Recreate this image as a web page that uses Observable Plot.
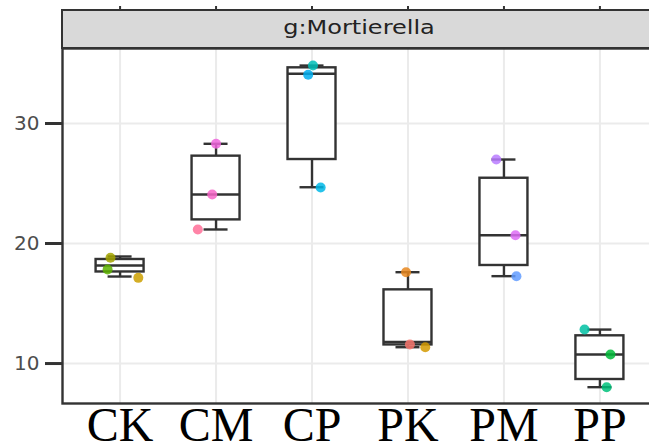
<!DOCTYPE html>
<html>
<head>
<meta charset="utf-8">
<script src="https://cdn.jsdelivr.net/npm/d3@7"></script>
<script src="https://cdn.jsdelivr.net/npm/@observablehq/plot@0.6"></script>
<style>
html, body { margin: 0; padding: 0; background: #fff; overflow: hidden; }
#wrap { position: relative; width: 649px; height: 448px; overflow: hidden; }
#chart { position: absolute; left: 0; top: 0; width: 657px; }
#chart svg { max-width: none !important; }
#strip { position: absolute; left: 61px; top: 9px; width: 700px; height: 36px; background: #d9d9d9;
  border-top: 2px solid #333; border-bottom: 2px solid #333; border-left: 2px solid #333; }
#striptext { position: absolute; left: 359px; top: 17px; font: 20px "DejaVu Sans"; line-height: 20px;
  color: #222; white-space: nowrap; transform: translateX(-50%) scaleX(1.2); }
</style>
</head>
<body>
<div id="wrap">
  <div id="chart"></div>
  <div id="strip"></div>
  <div id="striptext">g:Mortierella</div>
</div>
<script>
// Categories (x axis)
const categories = ["CK", "CM", "CP", "PK", "PM", "PP"];
const yTicks = [10, 20, 30];

// Box statistics
const ymin   = [17.25, 21.17, 24.69, 11.36, 17.28,  8.03];
const lower  = [17.63, 21.97, 27.00, 11.55, 18.17,  8.67];
const middle = [18.17, 24.08, 34.14, 11.80, 20.69, 10.75];
const upper  = [18.67, 27.28, 34.64, 16.14, 25.44, 12.31];
const ymax   = [18.92, 28.31, 34.83, 17.61, 27.00, 12.83];

// Individual samples (jittered points)
const sampleIds   = ["CK1","CK2","CK3","CM1","CM2","CM3","CP1","CP2","CP3","PK1","PK2","PK3","PM1","PM2","PM3","PP1","PP2","PP3"];
const pointCat    = [0,0,0, 1,1,1, 2,2,2, 3,3,3, 4,4,4, 5,5,5];
const pointJitter = [-0.10,-0.13,0.19, 0.00,-0.04,-0.19, 0.01,-0.04,0.09, -0.02,0.02,0.18, -0.08,0.12,0.13, -0.16,0.11,0.07];
const pointValue  = [18.81,17.83,17.14, 28.31,24.08,21.17, 34.83,34.06,24.67, 17.61,11.58,11.36, 27.00,20.69,17.28, 12.83,10.75,8.03];
const sampleColors = ["#A3A500","#5DB300","#CDA000", "#F066DD","#F765C8","#FF6F98", "#00C0B8","#00AEEF","#00B8E7",
                      "#E8871E","#F8766D","#D39A00", "#B87BFF","#DD6CF5","#619CFF", "#00C1A3","#00BA38","#00C17A"];

const idx = d3.range(categories.length);
const boxes = idx.map(i => ({i, ymin: ymin[i], lower: lower[i], middle: middle[i], upper: upper[i], ymax: ymax[i]}));
const pts = pointValue.map((v, k) => ({x: pointCat[k] + pointJitter[k], y: v, s: sampleIds[k]}));

const sw = 2.4;
const chart = Plot.plot({
  width: 657,
  height: 448,
  marginLeft: 62,
  marginRight: 0,
  marginTop: 48,
  marginBottom: 45,
  style: {maxWidth: "none", overflow: "visible"},
  x: {domain: [-0.6, 5.6], axis: null},
  y: {domain: [6.67, 36.25], axis: null},
  color: {domain: sampleIds, range: sampleColors},
  marks: [
    Plot.gridY(yTicks, {stroke: "#ebebeb", strokeOpacity: 1, strokeWidth: 2}),
    Plot.gridX(idx, {stroke: "#ebebeb", strokeOpacity: 1, strokeWidth: 2}),
    Plot.ruleX(boxes, {x: "i", y1: "ymin", y2: "ymax", stroke: "#333", strokeWidth: sw}),
    Plot.ruleY(boxes, {y: "ymax", x1: d => d.i - 0.125, x2: d => d.i + 0.125, stroke: "#333", strokeWidth: sw}),
    Plot.ruleY(boxes, {y: "ymin", x1: d => d.i - 0.125, x2: d => d.i + 0.125, stroke: "#333", strokeWidth: sw}),
    Plot.rect(boxes, {x1: d => d.i - 0.25, x2: d => d.i + 0.25, y1: "lower", y2: "upper", fill: "white", stroke: "#333", strokeWidth: sw}),
    Plot.ruleY(boxes, {y: "middle", x1: d => d.i - 0.25, x2: d => d.i + 0.25, stroke: "#333", strokeWidth: sw}),
    Plot.dot(pts, {x: "x", y: "y", fill: "s", r: 5, fillOpacity: 0.85}),
    Plot.frame({stroke: "#333", strokeWidth: 2.4}),
    Plot.axisY(yTicks, {tickSize: 17, tickPadding: 6, fontSize: 20, fontFamily: "DejaVu Sans", color: "#4d4d4d", stroke: "#333", strokeWidth: 3}),
    Plot.axisX(idx, {tickSize: 0, tickPadding: 3, tickFormat: i => categories[i], fontSize: 48, fontFamily: "Liberation Serif", color: "#000"}),
    Plot.axisX(idx, {anchor: "top", tickSize: 4, dy: -39, tickFormat: () => "", stroke: "#333", strokeWidth: 2})
  ]
});
document.getElementById("chart").appendChild(chart);
</script>
</body>
</html>
